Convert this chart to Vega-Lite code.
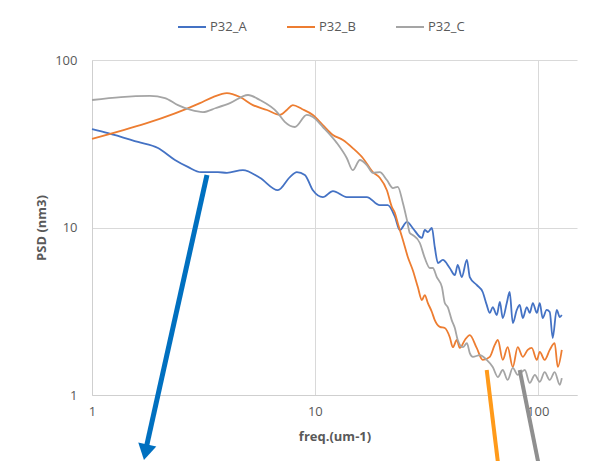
{
  "$schema": "https://vega.github.io/schema/vega-lite/v6.json",
  "width": 485,
  "height": 335,
  "autosize": {"type": "none"},
  "padding": {"left": 92, "top": 60, "right": 16, "bottom": 66},
  "background": "white",
  "config": {"view": {"stroke": null}, "font": "Open Sans"},
  "datasets": {
    "psd": [
      {"series":"P32_A","freq":1.0,"psd":38.7},{"series":"P32_A","freq":1.18,"psd":36.6},{"series":"P32_A","freq":1.608,"psd":32.4},{"series":"P32_A","freq":1.977,"psd":29.8},{"series":"P32_A","freq":2.356,"psd":25.3},{"series":"P32_A","freq":2.692,"psd":23.0},{"series":"P32_A","freq":3.082,"psd":21.4},{"series":"P32_A","freq":3.673,"psd":21.4},{"series":"P32_A","freq":4.029,"psd":21.2},{"series":"P32_A","freq":4.753,"psd":22.0},{"series":"P32_A","freq":5.663,"psd":19.8},{"series":"P32_A","freq":6.824,"psd":16.7},{"series":"P32_A","freq":7.727,"psd":20.0},{"series":"P32_A","freq":8.299,"psd":21.4},{"series":"P32_A","freq":9.016,"psd":20.6},{"series":"P32_A","freq":9.795,"psd":16.7},{"series":"P32_A","freq":10.86,"psd":15.2},{"series":"P32_A","freq":12.05,"psd":16.5},{"series":"P32_A","freq":13.9,"psd":15.2},{"series":"P32_A","freq":17.1,"psd":15.2},{"series":"P32_A","freq":19.55,"psd":13.6},{"series":"P32_A","freq":21.24,"psd":13.6},{"series":"P32_A","freq":22.86,"psd":11.6},{"series":"P32_A","freq":24.05,"psd":9.66},{"series":"P32_A","freq":25.88,"psd":10.8},{"series":"P32_A","freq":27.48,"psd":9.93},{"series":"P32_A","freq":30.2,"psd":8.66},{"series":"P32_A","freq":31.12,"psd":9.66},{"series":"P32_A","freq":32.14,"psd":9.4},{"series":"P32_A","freq":33.5,"psd":9.93},{"series":"P32_A","freq":34.51,"psd":7.65},{"series":"P32_A","freq":35.65,"psd":6.14},{"series":"P32_A","freq":37.5,"psd":6.4},{"series":"P32_A","freq":40.27,"psd":5.73},{"series":"P32_A","freq":42.46,"psd":5.2},{"series":"P32_A","freq":43.75,"psd":5.97},{"series":"P32_A","freq":45.6,"psd":5.06},{"series":"P32_A","freq":48.08,"psd":6.4},{"series":"P32_A","freq":49.55,"psd":5.06},{"series":"P32_A","freq":53.21,"psd":4.54},{"series":"P32_A","freq":56.62,"psd":4.12},{"series":"P32_A","freq":59.02,"psd":3.45},{"series":"P32_A","freq":60.95,"psd":3.09},{"series":"P32_A","freq":62.81,"psd":3.35},{"series":"P32_A","freq":65.46,"psd":3.0},{"series":"P32_A","freq":67.61,"psd":3.59},{"series":"P32_A","freq":69.66,"psd":2.88},{"series":"P32_A","freq":72.61,"psd":3.54},{"series":"P32_A","freq":74.82,"psd":4.12},{"series":"P32_A","freq":77.27,"psd":2.69},{"series":"P32_A","freq":80.54,"psd":3.22},{"series":"P32_A","freq":82.99,"psd":3.45},{"series":"P32_A","freq":85.7,"psd":2.88},{"series":"P32_A","freq":89.33,"psd":3.35},{"series":"P32_A","freq":92.04,"psd":3.09},{"series":"P32_A","freq":95.06,"psd":3.54},{"series":"P32_A","freq":99.08,"psd":3.09},{"series":"P32_A","freq":102.1,"psd":3.54},{"series":"P32_A","freq":105.2,"psd":2.88},{"series":"P32_A","freq":109.6,"psd":3.22},{"series":"P32_A","freq":113.2,"psd":3.13},{"series":"P32_A","freq":116.7,"psd":2.19},{"series":"P32_A","freq":121.6,"psd":3.22},{"series":"P32_A","freq":125.6,"psd":2.92},{"series":"P32_A","freq":128.2,"psd":3.0},
      {"series":"P32_B","freq":1.0,"psd":33.8},{"series":"P32_B","freq":3.05,"psd":55.3},{"series":"P32_B","freq":3.49,"psd":60.1},{"series":"P32_B","freq":4.029,"psd":63.5},{"series":"P32_B","freq":4.613,"psd":60.1},{"series":"P32_B","freq":5.272,"psd":53.8},{"series":"P32_B","freq":6.095,"psd":50.3},{"series":"P32_B","freq":6.966,"psd":47.0},{"series":"P32_B","freq":7.482,"psd":50.3},{"series":"P32_B","freq":7.962,"psd":53.8},{"series":"P32_B","freq":8.75,"psd":51.0},{"series":"P32_B","freq":9.795,"psd":47.0},{"series":"P32_B","freq":10.86,"psd":40.9},{"series":"P32_B","freq":12.05,"psd":35.7},{"series":"P32_B","freq":13.36,"psd":33.3},{"series":"P32_B","freq":14.79,"psd":29.8},{"series":"P32_B","freq":16.41,"psd":26.0},{"series":"P32_B","freq":18.2,"psd":21.4},{"series":"P32_B","freq":19.55,"psd":19.8},{"series":"P32_B","freq":21.04,"psd":16.7},{"series":"P32_B","freq":22.13,"psd":13.3},{"series":"P32_B","freq":22.86,"psd":12.2},{"series":"P32_B","freq":23.55,"psd":10.6},{"series":"P32_B","freq":24.83,"psd":8.42},{"series":"P32_B","freq":26.12,"psd":6.67},{"series":"P32_B","freq":27.48,"psd":5.57},{"series":"P32_B","freq":28.97,"psd":4.41},{"series":"P32_B","freq":30.2,"psd":3.69},{"series":"P32_B","freq":31.12,"psd":3.95},{"series":"P32_B","freq":32.14,"psd":3.54},{"series":"P32_B","freq":33.5,"psd":3.13},{"series":"P32_B","freq":34.51,"psd":2.8},{"series":"P32_B","freq":36.39,"psd":2.55},{"series":"P32_B","freq":38.28,"psd":2.51},{"series":"P32_B","freq":40.27,"psd":2.22},{"series":"P32_B","freq":41.59,"psd":1.93},{"series":"P32_B","freq":43.35,"psd":2.13},{"series":"P32_B","freq":44.67,"psd":1.91},{"series":"P32_B","freq":47.1,"psd":2.13},{"series":"P32_B","freq":49.55,"psd":2.28},{"series":"P32_B","freq":53.21,"psd":1.91},{"series":"P32_B","freq":56.62,"psd":1.62},{"series":"P32_B","freq":60.95,"psd":1.69},{"series":"P32_B","freq":64.12,"psd":1.99},{"series":"P32_B","freq":66.22,"psd":2.13},{"series":"P32_B","freq":69.66,"psd":1.62},{"series":"P32_B","freq":73.28,"psd":1.93},{"series":"P32_B","freq":77.27,"psd":1.47},{"series":"P32_B","freq":81.28,"psd":1.93},{"series":"P32_B","freq":85.7,"psd":1.69},{"series":"P32_B","freq":90.16,"psd":1.86},{"series":"P32_B","freq":93.97,"psd":1.91},{"series":"P32_B","freq":99.08,"psd":1.62},{"series":"P32_B","freq":102.1,"psd":1.81},{"series":"P32_B","freq":107.4,"psd":1.62},{"series":"P32_B","freq":113.2,"psd":1.86},{"series":"P32_B","freq":119.1,"psd":2.04},{"series":"P32_B","freq":123.0,"psd":1.47},{"series":"P32_B","freq":128.2,"psd":1.86},
      {"series":"P32_C","freq":1.0,"psd":57.7},{"series":"P32_C","freq":1.349,"psd":60.1},{"series":"P32_C","freq":1.82,"psd":61.0},{"series":"P32_C","freq":2.125,"psd":59.3},{"series":"P32_C","freq":2.431,"psd":53.8},{"series":"P32_C","freq":2.779,"psd":50.3},{"series":"P32_C","freq":3.148,"psd":48.9},{"series":"P32_C","freq":3.597,"psd":51.7},{"series":"P32_C","freq":4.159,"psd":55.3},{"series":"P32_C","freq":5.012,"psd":61.8},{"series":"P32_C","freq":5.663,"psd":57.7},{"series":"P32_C","freq":6.761,"psd":48.9},{"series":"P32_C","freq":7.328,"psd":42.7},{"series":"P32_C","freq":8.128,"psd":39.8},{"series":"P32_C","freq":9.204,"psd":47.0},{"series":"P32_C","freq":9.795,"psd":45.7},{"series":"P32_C","freq":10.86,"psd":39.8},{"series":"P32_C","freq":12.56,"psd":31.9},{"series":"P32_C","freq":13.9,"psd":26.0},{"series":"P32_C","freq":14.79,"psd":22.0},{"series":"P32_C","freq":15.92,"psd":25.3},{"series":"P32_C","freq":17.1,"psd":23.6},{"series":"P32_C","freq":18.2,"psd":21.2},{"series":"P32_C","freq":19.55,"psd":21.4},{"series":"P32_C","freq":21.04,"psd":19.2},{"series":"P32_C","freq":22.39,"psd":17.2},{"series":"P32_C","freq":23.55,"psd":17.5},{"series":"P32_C","freq":24.83,"psd":14.0},{"series":"P32_C","freq":25.88,"psd":11.1},{"series":"P32_C","freq":26.67,"psd":9.27},{"series":"P32_C","freq":27.48,"psd":9.02},{"series":"P32_C","freq":29.58,"psd":8.08},{"series":"P32_C","freq":31.12,"psd":6.58},{"series":"P32_C","freq":32.81,"psd":5.73},{"series":"P32_C","freq":33.81,"psd":5.73},{"series":"P32_C","freq":35.24,"psd":5.06},{"series":"P32_C","freq":37.15,"psd":4.41},{"series":"P32_C","freq":38.28,"psd":3.54},{"series":"P32_C","freq":39.45,"psd":3.35},{"series":"P32_C","freq":41.11,"psd":2.8},{"series":"P32_C","freq":42.46,"psd":2.51},{"series":"P32_C","freq":43.75,"psd":2.13},{"series":"P32_C","freq":46.13,"psd":1.93},{"series":"P32_C","freq":48.08,"psd":2.04},{"series":"P32_C","freq":49.55,"psd":1.78},{"series":"P32_C","freq":51.17,"psd":1.69},{"series":"P32_C","freq":54.95,"psd":1.73},{"series":"P32_C","freq":59.02,"psd":1.62},{"series":"P32_C","freq":62.81,"psd":1.47},{"series":"P32_C","freq":66.22,"psd":1.28},{"series":"P32_C","freq":69.66,"psd":1.41},{"series":"P32_C","freq":73.28,"psd":1.23},{"series":"P32_C","freq":77.27,"psd":1.45},{"series":"P32_C","freq":81.28,"psd":1.32},{"series":"P32_C","freq":87.5,"psd":1.41},{"series":"P32_C","freq":92.04,"psd":1.18},{"series":"P32_C","freq":97.05,"psd":1.32},{"series":"P32_C","freq":102.1,"psd":1.2},{"series":"P32_C","freq":107.4,"psd":1.37},{"series":"P32_C","freq":113.2,"psd":1.23},{"series":"P32_C","freq":119.1,"psd":1.37},{"series":"P32_C","freq":125.6,"psd":1.15},{"series":"P32_C","freq":128.2,"psd":1.26}
    ],
    "arrows": [
      {"arrow":"blue","freq":3.28,"psd":20.6},{"arrow":"blue","freq":1.76,"psd":0.5},
      {"arrow":"bluehead","freq":1.74,"psd":0.455},
      {"arrow":"orange","freq":59.02,"psd":1.41},{"arrow":"orange","freq":66.9,"psd":0.357},
      {"arrow":"gray","freq":82.99,"psd":1.41},{"arrow":"gray","freq":102.1,"psd":0.357}
    ]
  },
  "layer": [
    {
      "data": {"name": "psd"},
      "mark": {"type": "line", "interpolate": "monotone", "strokeWidth": 1.8, "clip": false},
      "encoding": {
        "x": {"field": "freq", "type": "quantitative",
          "scale": {"type": "log", "domain": [1, 150], "nice": false},
          "axis": {"title": "freq.(um-1)", "values": [1, 10, 100], "format": "d", "grid": true, "gridColor": "#d9d9d9", "domainColor": "#cfcfcf", "ticks": false, "labelPadding": 10, "labelFontSize": 13, "labelColor": "#595959", "labelFont": "Open Sans", "titleFont": "Open Sans", "titleFontSize": 13, "titleColor": "#595959", "titleFontWeight": "bold", "titlePadding": 12, "labelFlush": false}},
        "y": {"field": "psd", "type": "quantitative",
          "scale": {"type": "log", "domain": [1, 100], "nice": false},
          "axis": {"title": "PSD (nm3)", "values": [1, 10, 100], "format": "d", "grid": true, "gridColor": "#d9d9d9", "domainColor": "#cfcfcf", "ticks": false, "labelPadding": 15, "labelFontSize": 13, "labelColor": "#595959", "labelFont": "Open Sans", "titleFont": "Open Sans", "titleFontSize": 13, "titleColor": "#595959", "titleFontWeight": "bold", "titlePadding": 6, "labelFlush": false}},
        "color": {"field": "series", "type": "nominal",
          "scale": {"domain": ["P32_A", "P32_B", "P32_C"], "range": ["#4472C4", "#ED7D31", "#A5A5A5"]},
          "legend": {"title": null, "orient": "none", "legendX": 85, "legendY": -48, "direction": "horizontal", "symbolType": "stroke", "symbolSize": 784, "symbolStrokeWidth": 2, "labelOffset": 3, "columnPadding": 36, "labelFontSize": 13, "labelColor": "#595959", "labelFont": "Open Sans"}}
      }
    },
    {
      "data": {"name": "arrows"},
      "transform": [{"filter": "datum.arrow === 'blue'"}],
      "mark": {"type": "line", "color": "#0070C0", "strokeWidth": 5, "clip": false, "strokeCap": "butt"},
      "encoding": {
        "x": {"field": "freq", "type": "quantitative", "scale": {"type": "log", "domain": [1, 150], "nice": false}},
        "y": {"field": "psd", "type": "quantitative", "scale": {"type": "log", "domain": [1, 100], "nice": false}}
      }
    },
    {
      "data": {"name": "arrows"},
      "transform": [{"filter": "datum.arrow === 'bluehead'"}],
      "mark": {"type": "point", "shape": "triangle-down", "filled": true, "color": "#0070C0", "size": 340, "angle": 12, "opacity": 1, "clip": false},
      "encoding": {
        "x": {"field": "freq", "type": "quantitative", "scale": {"type": "log", "domain": [1, 150], "nice": false}},
        "y": {"field": "psd", "type": "quantitative", "scale": {"type": "log", "domain": [1, 100], "nice": false}}
      }
    },
    {
      "data": {"name": "arrows"},
      "transform": [{"filter": "datum.arrow === 'orange'"}],
      "mark": {"type": "line", "color": "#FF9A1A", "strokeWidth": 4, "clip": false, "strokeCap": "butt"},
      "encoding": {
        "x": {"field": "freq", "type": "quantitative", "scale": {"type": "log", "domain": [1, 150], "nice": false}},
        "y": {"field": "psd", "type": "quantitative", "scale": {"type": "log", "domain": [1, 100], "nice": false}}
      }
    },
    {
      "data": {"name": "arrows"},
      "transform": [{"filter": "datum.arrow === 'gray'"}],
      "mark": {"type": "line", "color": "#8F8F8F", "strokeWidth": 4, "clip": false, "strokeCap": "butt"},
      "encoding": {
        "x": {"field": "freq", "type": "quantitative", "scale": {"type": "log", "domain": [1, 150], "nice": false}},
        "y": {"field": "psd", "type": "quantitative", "scale": {"type": "log", "domain": [1, 100], "nice": false}}
      }
    }
  ]
}
